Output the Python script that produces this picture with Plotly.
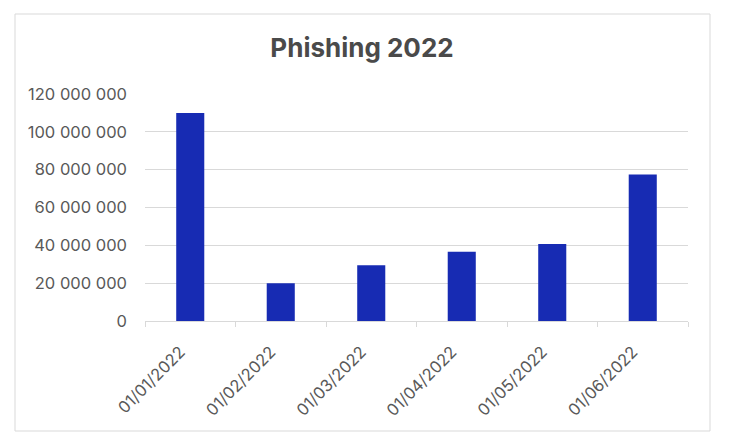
import plotly.graph_objects as go

categories = ["01/01/2022", "01/02/2022", "01/03/2022", "01/04/2022", "01/05/2022", "01/06/2022"]
values = [110_000_000, 20_000_000, 29_500_000, 36_600_000, 40_700_000, 77_400_000]
y_ticks = [0, 20_000_000, 40_000_000, 60_000_000, 80_000_000, 100_000_000, 120_000_000]

W, H = 732, 446
OFF = 8  # page body offset
L, R, T, B = 145 - OFF, 44 + OFF, 94 - OFF, 125 + OFF
pw, ph = W - L - R, H - T - B

fig = go.Figure(go.Bar(x=categories, y=values, marker=dict(color="#172BB3", line=dict(width=0)), width=0.31))

fig.update_layout(
    width=W, height=H,
    margin=dict(l=L, r=R, t=T, b=B),
    paper_bgcolor="white", plot_bgcolor="white",
    separators=", ",
    font=dict(family="Inter, Lato, sans-serif", color="#595959", size=15),
    title=dict(text="<b>Phishing 2022</b>", x=(362 - OFF) / W, xanchor="center",
               y=1 - (48 - OFF) / H, yanchor="middle",
               font=dict(size=26, color="#4A4A4A", family="Inter, sans-serif")),
    showlegend=False,
    bargap=0.69,
)
fig.update_yaxes(range=[0, 120_000_000], tickvals=y_ticks, tickformat=",d", showgrid=True,
                 gridcolor="#D9D9D9", gridwidth=1, zeroline=False, showline=False,
                 ticks="", ticklabelstandoff=17, tickfont=dict(size=16.5, color="#595959"))
fig.update_xaxes(type="category", tickangle=-45, showline=True, linecolor="#D9D9D9", linewidth=1,
                 ticks="outside", tickson="boundaries", ticklen=5, tickcolor="#D9D9D9",
                 ticksuffix="\u00a0\u00a0\u00a0", ticklabelstandoff=4,
                 showgrid=False, tickfont=dict(size=16.5, color="#595959"))

fig.add_shape(type="rect", xref="paper", yref="paper",
              x0=(15 - 145) / pw, x1=(710 - 145) / pw,
              y0=(321 - 431) / ph, y1=(321 - 14) / ph,
              line=dict(color="#D9D9D9", width=1), fillcolor="rgba(0,0,0,0)", layer="below")

fig.write_html("out.html")
